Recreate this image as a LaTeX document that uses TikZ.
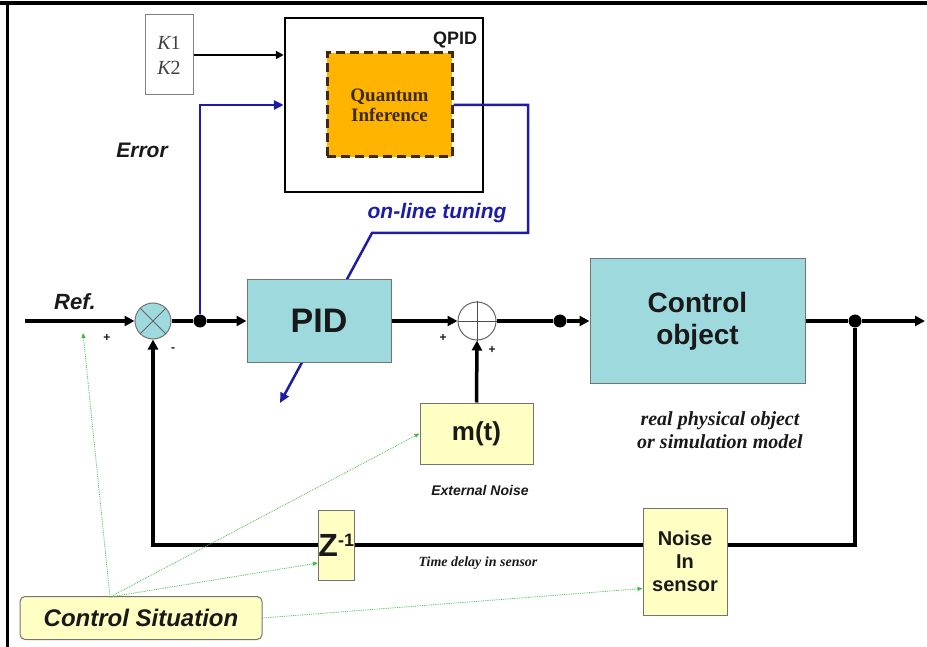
\documentclass[tikz,border=0pt]{standalone}
\usepackage{fontspec}
\setmainfont{Liberation Serif}
\setsansfont{Liberation Sans}
\usetikzlibrary{arrows.meta,calc}
\definecolor{pidteal}{HTML}{9ED9DE}
\definecolor{noteyellow}{HTML}{FFFFC4}
\definecolor{quantumorange}{HTML}{FFB400}
\definecolor{quantumbrown}{HTML}{3C2A08}
\definecolor{tuneblue}{HTML}{1C1CA8}
\definecolor{hintgreen}{HTML}{44BB44}
\newcommand{\fs}[1]{\fontsize{#1}{1.15\dimexpr#1pt\relax}\selectfont}
\begin{document}
\begin{tikzpicture}[x=1pt,y=-1pt]
    \tikzstyle{every node}=[font=\sffamily\bfseries,text=black!90]
    \tikzstyle{block}=[draw=black!55,line width=1pt,fill=pidteal,inner sep=0pt,align=center]
    \tikzstyle{note}=[draw=black!55,line width=1pt,fill=noteyellow,inner sep=0pt,align=center]
    \tikzstyle{sig}=[line width=3.5pt,-{Triangle[length=10pt,width=10pt]}]
    \tikzstyle{wire}=[line width=3.5pt]
    \tikzstyle{tune}=[draw=tuneblue,line width=2.5pt]
    \tikzstyle{hint}=[draw=hintgreen,densely dotted,line width=0.8pt,-{Triangle[length=5pt,width=4pt]}]
    \tikzstyle{dot}=[circle,fill=black,inner sep=0pt,minimum size=13pt]
    \tikzstyle{sign}=[font=\sffamily\bfseries\fs{12},inner sep=0pt]
    \useasboundingbox (0,0) rectangle (927,647);
    % frame
    \draw[line width=4pt] (0,3) -- (927,3);
    \draw[line width=3pt] (7,3) -- (7,647);

    % tuning part
    \node[draw=black!50,line width=1pt,minimum width=48pt,minimum height=80pt,inner sep=0pt,align=center,font=\fs{20},text=black!75]
        (gains) at (169,55) {{\rmfamily\itshape K}1\\[2pt]{\rmfamily\itshape K}2};
    \node[draw=black,line width=2.5pt,fill=white,minimum width=198pt,minimum height=174pt] (qpid) at (384,105) {};
    \node[font=\sffamily\bfseries\fs{18}] (qpidlabel) at (455,40) {QPID};
    \node[draw=quantumbrown,dashed,dash pattern=on 9pt off 5pt,line width=3pt,fill=quantumorange,
        minimum width=125pt,minimum height=104pt,align=center,text=quantumbrown,
        font=\rmfamily\bfseries\fs{19}] (quantum) at (389.5,105) {Quantum\\[-2pt]Inference};
    \node[font=\sffamily\bfseries\itshape\fs{21}] (error) at (142,150) {Error};
    \node[font=\sffamily\bfseries\itshape\fs{21},text=tuneblue] (online) at (437,213) {on-line tuning};

    % loop
    \coordinate (refin) at (25,321);
    \node[font=\sffamily\bfseries\itshape\fs{22}] (ref) at (75,302) {Ref.};
    \node[circle,draw=black!55,line width=1pt,fill=pidteal,minimum size=36pt,inner sep=0pt] (sum1) at (153,321) {};
    \draw[black!60,line width=1pt] (sum1.north west) -- (sum1.south east) (sum1.north east) -- (sum1.south west);
    \node[dot] (split) at (200,321) {};

    % blue tuning lines go under the PID box
    \coordinate (tunebend) at (528,233);
    \coordinate (tunetip) at (280,403);
    \draw[tune,-{Triangle[length=10pt,width=9pt]}] (split) |- (qpid.west);
    \draw[tune,-{Triangle[length=10pt,width=9pt]}] (quantum.east) -| (tunebend) -- (372,233) -- (tunetip);

    \node[block,minimum width=144pt,minimum height=82pt,font=\sffamily\bfseries\fs{34}] (pid) at (319,321) {PID};
    \node[circle,draw=black!60,line width=1pt,fill=white,minimum size=38pt,inner sep=0pt] (sum2) at (477,321) {};
    \draw[black!70,line width=0.8pt] (sum2.north) -- (sum2.south) (sum2.west) -- (sum2.east);
    \node[note,minimum width=113pt,minimum height=61pt,font=\sffamily\bfseries\fs{26}] (mt) at (476.5,433.5) {m(t)};
    \node[font=\sffamily\bfseries\itshape\fs{14}] (ext) at (480,490) {External Noise};
    \node[dot] (tap) at (560,321) {};
    \node[block,minimum width=215pt,minimum height=124pt,font=\sffamily\bfseries\fs{28}] (plant) at (697.5,321) {Control\\object};
    \node[align=center,font=\rmfamily\bfseries\itshape\fs{20}] (plantnote) at (720,430) {real physical object\\or simulation model};
    \node[dot] (out) at (855,321) {};
    \coordinate (yout) at (925,321);

    % feedback
    \node[note,minimum width=84pt,minimum height=107pt,font=\sffamily\bfseries\fs{20}] (noise) at (685,561.5) {Noise\\In\\sensor};
    \node[note,minimum width=33pt,minimum height=70pt,font=\sffamily\bfseries\fs{32}] (zdelay) at (336.5,545) {Z\textsuperscript{\fs{18}-1}};
    \node[font=\rmfamily\bfseries\itshape\fs{14}] (delaynote) at (478,563) {Time delay in sensor};

    \draw[sig] (refin) -- (sum1.west);
    \draw[wire] (sum1.east) -- (split);
    \draw[sig] (split) -- (pid.west);
    \draw[sig] (pid.east) -- (sum2.west);
    \draw[sig] (mt.north) -- (sum2.south);
    \draw[wire] (sum2.east) -- (tap);
    \draw[sig] (tap) -- (plant.west);
    \draw[wire] (plant.east) -- (out);
    \draw[sig] (out) -- (yout);
    \draw[wire] (out) |- (noise.east |- zdelay.east);
    \draw[wire] (noise.west |- zdelay.east) -- (zdelay.east);
    \draw[sig] (zdelay.west) -| (sum1.south);
    \draw[line width=2.5pt,-{Triangle[length=8pt,width=8pt]}] (gains.east) -- (gains.east -| qpid.west);

    % signs
    \node[sign] (p1) at (107,338) {+};
    \node[sign] (m1) at (173,350) {-};
    \node[sign] (p2) at (443,338) {+};
    \node[sign] (p3) at (492,350) {+};

    % situation hints
    \node[note,rounded corners=5pt,minimum width=242pt,minimum height=43pt,
        font=\sffamily\bfseries\itshape\fs{24}] (situation) at (141,618) {Control Situation};
    \coordinate (fan) at (110,597);
    \coordinate (refhint) at (83,333);
    \draw[hint] (fan) -- (refhint);
    \draw[hint] (fan) -- (mt.west);
    \draw[hint] (fan) -- ($(zdelay.west)+(0,18)$);
    \draw[hint] (situation.east) -- ($(noise.west)+(0,27)$);
\end{tikzpicture}
\end{document}
